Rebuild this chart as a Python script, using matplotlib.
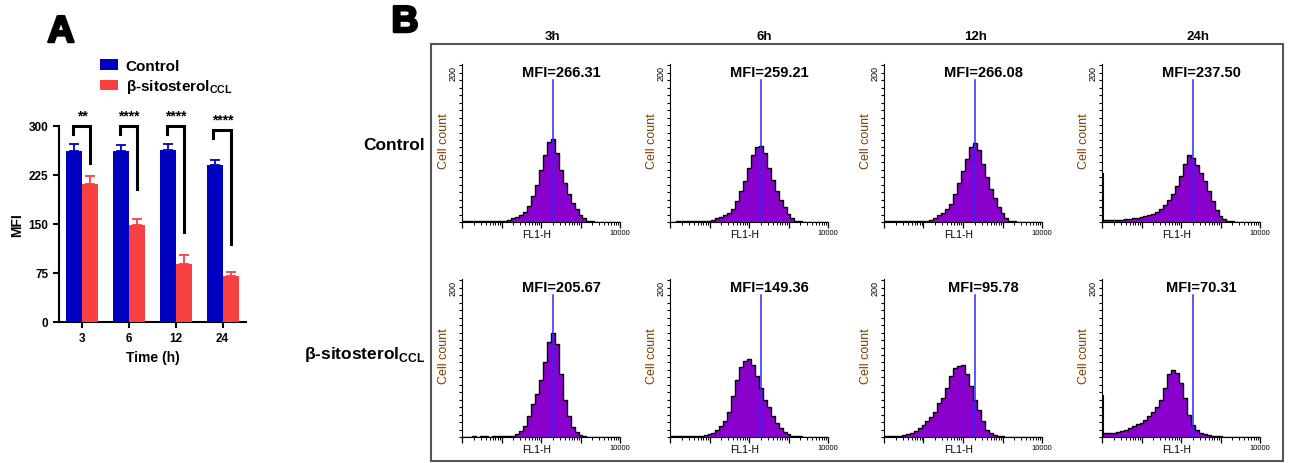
import numpy as np
import matplotlib.pyplot as plt
import matplotlib.patheffects as pe
from matplotlib.patches import Rectangle
from matplotlib.ticker import FixedLocator, NullFormatter, FuncFormatter

plt.rcParams['font.family'] = ['Liberation Sans', 'DejaVu Sans']
plt.rcParams['mathtext.fontset'] = 'custom'
plt.rcParams['mathtext.rm'] = 'Liberation Sans'
plt.rcParams['mathtext.bf'] = 'Liberation Sans:bold'

# ---- Panel A data ----
times = ['3', '6', '12', '24']
control_mfi = [261, 261, 264, 240]
control_err = [11, 10, 9, 8]
sito_mfi = [211, 148, 89, 71]
sito_err = [12, 10, 13, 6]
stars = ['**', '****', '****', '****']
bracket_top = [300, 300, 300, 294]
bracket_right_end = [243, 204, 138, 120]

# ---- Panel B data (histograms, counts per 0.1 decade of FL1-H, 1..10000) ----
col_titles = ['3h', '6h', '12h', '24h']
row_titles = ['Control', 'β-sitosterol$_{\\mathbf{CCL}}$']
mfi_control = ['266.31', '259.21', '266.08', '237.50']
mfi_sito = ['205.67', '149.36', '95.78', '70.31']
gate_position = 204  # marker line, FL1-H
decades = np.linspace(0, 4, 41)

h_c3 = [1, 1, 1, 1, 1, 1, 1, 1, 1, 1, 2, 2, 3, 5, 7, 10, 14, 22, 35, 50, 70, 90, 108, 112,
        92, 70, 52, 38, 26, 17, 10, 5, 2, 1, 0, 0, 0, 0, 0, 0, 0]
h_c6 = [0, 0, 1, 2, 2, 2, 1, 2, 2, 2, 2, 3, 5, 7, 9, 12, 18, 28, 42, 55, 72, 90, 100, 102,
        92, 72, 56, 42, 30, 20, 11, 5, 2, 1, 0, 0, 0, 0, 0, 0, 0]
h_c12 = [1, 1, 1, 1, 1, 1, 1, 1, 1, 1, 1, 1, 3, 6, 9, 12, 17, 24, 38, 52, 68, 85, 100, 106,
         96, 78, 60, 44, 32, 20, 12, 6, 2, 1, 0, 0, 0, 0, 0, 0, 0]
h_c24 = [3, 3, 3, 3, 3, 3, 4, 4, 5, 6, 7, 8, 10, 11, 13, 17, 23, 30, 38, 48, 62, 78, 90, 86,
         76, 66, 55, 42, 28, 16, 8, 4, 2, 1, 0, 0, 0, 0, 0, 0, 0]
h_b3 = [0, 0, 0, 1, 0, 1, 1, 0, 1, 1, 1, 1, 1, 2, 4, 8, 15, 28, 44, 58, 76, 100, 128, 140,
        125, 85, 50, 28, 14, 7, 3, 1, 0, 0, 0, 0, 0, 0, 0, 0, 0]
h_b6 = [1, 1, 2, 1, 2, 1, 2, 2, 2, 3, 4, 6, 10, 15, 22, 34, 55, 76, 94, 102, 105, 96, 82, 66,
        50, 40, 28, 19, 12, 7, 4, 2, 2, 1, 0, 0, 0, 0, 0, 0, 0]
h_b12 = [1, 1, 2, 1, 2, 3, 4, 6, 8, 12, 16, 21, 27, 34, 45, 52, 66, 82, 92, 95, 96, 84, 68, 50,
         36, 22, 10, 5, 3, 2, 1, 0, 0, 0, 0, 0, 0, 0, 0, 0, 0]
h_b24 = [5, 5, 5, 6, 7, 8, 10, 12, 15, 17, 19, 23, 28, 34, 40, 50, 66, 84, 90, 86, 72, 52, 30, 16,
         9, 6, 4, 3, 2, 1, 1, 0, 0, 0, 0, 0, 0, 0, 0, 0, 0]
hist_rows = [[h_c3, h_c6, h_c12, h_c24], [h_b3, h_b6, h_b12, h_b24]]
edge_spike = [[0, 0, 0, 66], [0, 0, 0, 56]]

W, H = 1293, 464
fig = plt.figure(figsize=(W / 100, H / 100), dpi=100)

def box(l, t, r, b):
    return [l / W, 1 - b / H, (r - l) / W, (b - t) / H]

# ================= Panel A =================
blue = '#0000C0'
red = '#F84040'
axA = fig.add_axes(box(59, 127, 246, 323))
x = np.arange(len(times))
bw = 0.34
axA.bar(x - bw / 2, control_mfi, bw, color=blue, label='Control', zorder=3)
axA.bar(x + bw / 2, sito_mfi, bw, color=red, label=row_titles[1], zorder=3)
axA.errorbar(x - bw / 2, control_mfi, yerr=[[0] * 4, control_err], fmt='none',
             ecolor=blue, elinewidth=1.3, capsize=3.5, capthick=1.3, zorder=2)
axA.errorbar(x + bw / 2, sito_mfi, yerr=[[0] * 4, sito_err], fmt='none',
             ecolor=red, elinewidth=1.3, capsize=3.5, capthick=1.3, zorder=2)
for i in range(len(times)):
    xl, xr = i - 0.2, i + bw / 2
    top = bracket_top[i]
    axA.plot([xl, xl, xr, xr], [top - 13, top, top, bracket_right_end[i]],
             color='black', lw=2.2, clip_on=False, solid_joinstyle='miter')
    axA.text(i, top + 5, stars[i], ha='center', va='bottom', fontsize=10,
             fontweight='bold')
axA.set_xlim(-0.5, 3.5)
axA.set_ylim(0, 300)
axA.set_yticks([0, 75, 150, 225, 300])
axA.set_xticks(x)
axA.set_xticklabels(times)
for lab in axA.get_xticklabels() + axA.get_yticklabels():
    lab.set_fontweight('bold')
axA.tick_params(labelsize=8.5, width=1.5, length=4)
axA.spines['top'].set_visible(False)
axA.spines['right'].set_visible(False)
axA.spines['left'].set_linewidth(1.5)
axA.spines['bottom'].set_linewidth(1.5)
axA.set_xlabel('Time (h)', fontsize=10, fontweight='bold', labelpad=4)
axA.set_ylabel('MFI', fontsize=10, fontweight='bold', labelpad=3)
axA.legend(loc='upper left', bbox_to_anchor=(92 / W, 1 - 52 / H),
           bbox_transform=fig.transFigure, frameon=False,
           prop={'weight': 'bold', 'size': 11}, handlelength=1.2,
           handleheight=0.7, handletextpad=0.5, labelspacing=0.3, borderpad=0)

fig.text(61 / W, 1 - 33 / H, 'A', ha='center', va='center', fontsize=27,
         fontweight='bold',
         path_effects=[pe.withStroke(linewidth=1.8, foreground='black')])
fig.text(405 / W, 1 - 23 / H, 'B', ha='center', va='center', fontsize=27,
         fontweight='bold',
         path_effects=[pe.withStroke(linewidth=1.8, foreground='black')])

# ================= Panel B =================
fig.add_artist(Rectangle((431 / W, 1 - 462 / H), (1283 - 431) / W, (462 - 45) / H,
                         transform=fig.transFigure, fill=False,
                         edgecolor='#555555', lw=1.5))
col_x = [552, 764, 976, 1198]
for cx, t in zip(col_x, col_titles):
    fig.text(cx / W, 1 - 37 / H, t, ha='center', va='center', fontsize=9.5,
             fontweight='bold')
fig.text(425 / W, 1 - 145 / H, row_titles[0], ha='right', va='center',
         fontsize=12.5, fontweight='bold')
fig.text(425 / W, 1 - 355 / H, row_titles[1], ha='right', va='center',
         fontsize=12.5, fontweight='bold')

lefts = [462, 670, 884, 1102]
tops = [65, 280]
edges = 10 ** np.append(decades - 0.05, decades[-1] + 0.05)
mfi_rows = [mfi_control, mfi_sito]
for r in range(2):
    for c in range(4):
        ax = fig.add_axes(box(lefts[c], tops[r], lefts[c] + 158, tops[r] + 158))
        counts = hist_rows[r][c]
        ax.stairs(counts, edges, fill=True, color='#8A00CC', zorder=2)
        ax.stairs(counts, edges, color='black', lw=1.0, zorder=3)
        if edge_spike[r][c]:
            ax.vlines(1.05, 0, edge_spike[r][c], color='black', lw=1.5, zorder=3)
        ax.set_xscale('log')
        ax.set_xlim(1, 10000)
        ax.set_ylim(0, 212)
        ax.axvline(gate_position, ymin=0, ymax=0.9, color='#2a2aff', lw=1.1, zorder=4)
        ax.text(0.63, 0.95, 'MFI=' + mfi_rows[r][c], transform=ax.transAxes,
                ha='center', va='center', fontsize=10.5, fontweight='bold')
        ax.spines['top'].set_visible(False)
        ax.spines['right'].set_visible(False)
        ax.yaxis.set_major_locator(FixedLocator([200]))
        ax.yaxis.set_minor_locator(FixedLocator(np.arange(0, 211, 10)))
        ax.set_yticklabels(['200'], rotation=90, va='center', fontsize=6.5)
        ax.xaxis.set_major_formatter(
            FuncFormatter(lambda v, p: '10000' if v >= 9999 else ''))
        ax.xaxis.set_minor_formatter(NullFormatter())
        ax.tick_params(axis='x', which='major', length=4, width=0.9, labelsize=5.5, pad=1)
        ax.tick_params(axis='x', which='minor', length=2.5, width=0.7)
        ax.tick_params(axis='y', which='both', length=2.5, width=0.8, pad=1)
        ax.text(0.47, -0.045, 'FL1-H', transform=ax.transAxes, ha='center',
                va='top', fontsize=7.5)
        ax.set_ylabel('Cell count', fontsize=9, color='#7B3F00')
        ax.yaxis.set_label_coords(-0.075, 0.52)

fig.savefig('out.png', dpi=100)
